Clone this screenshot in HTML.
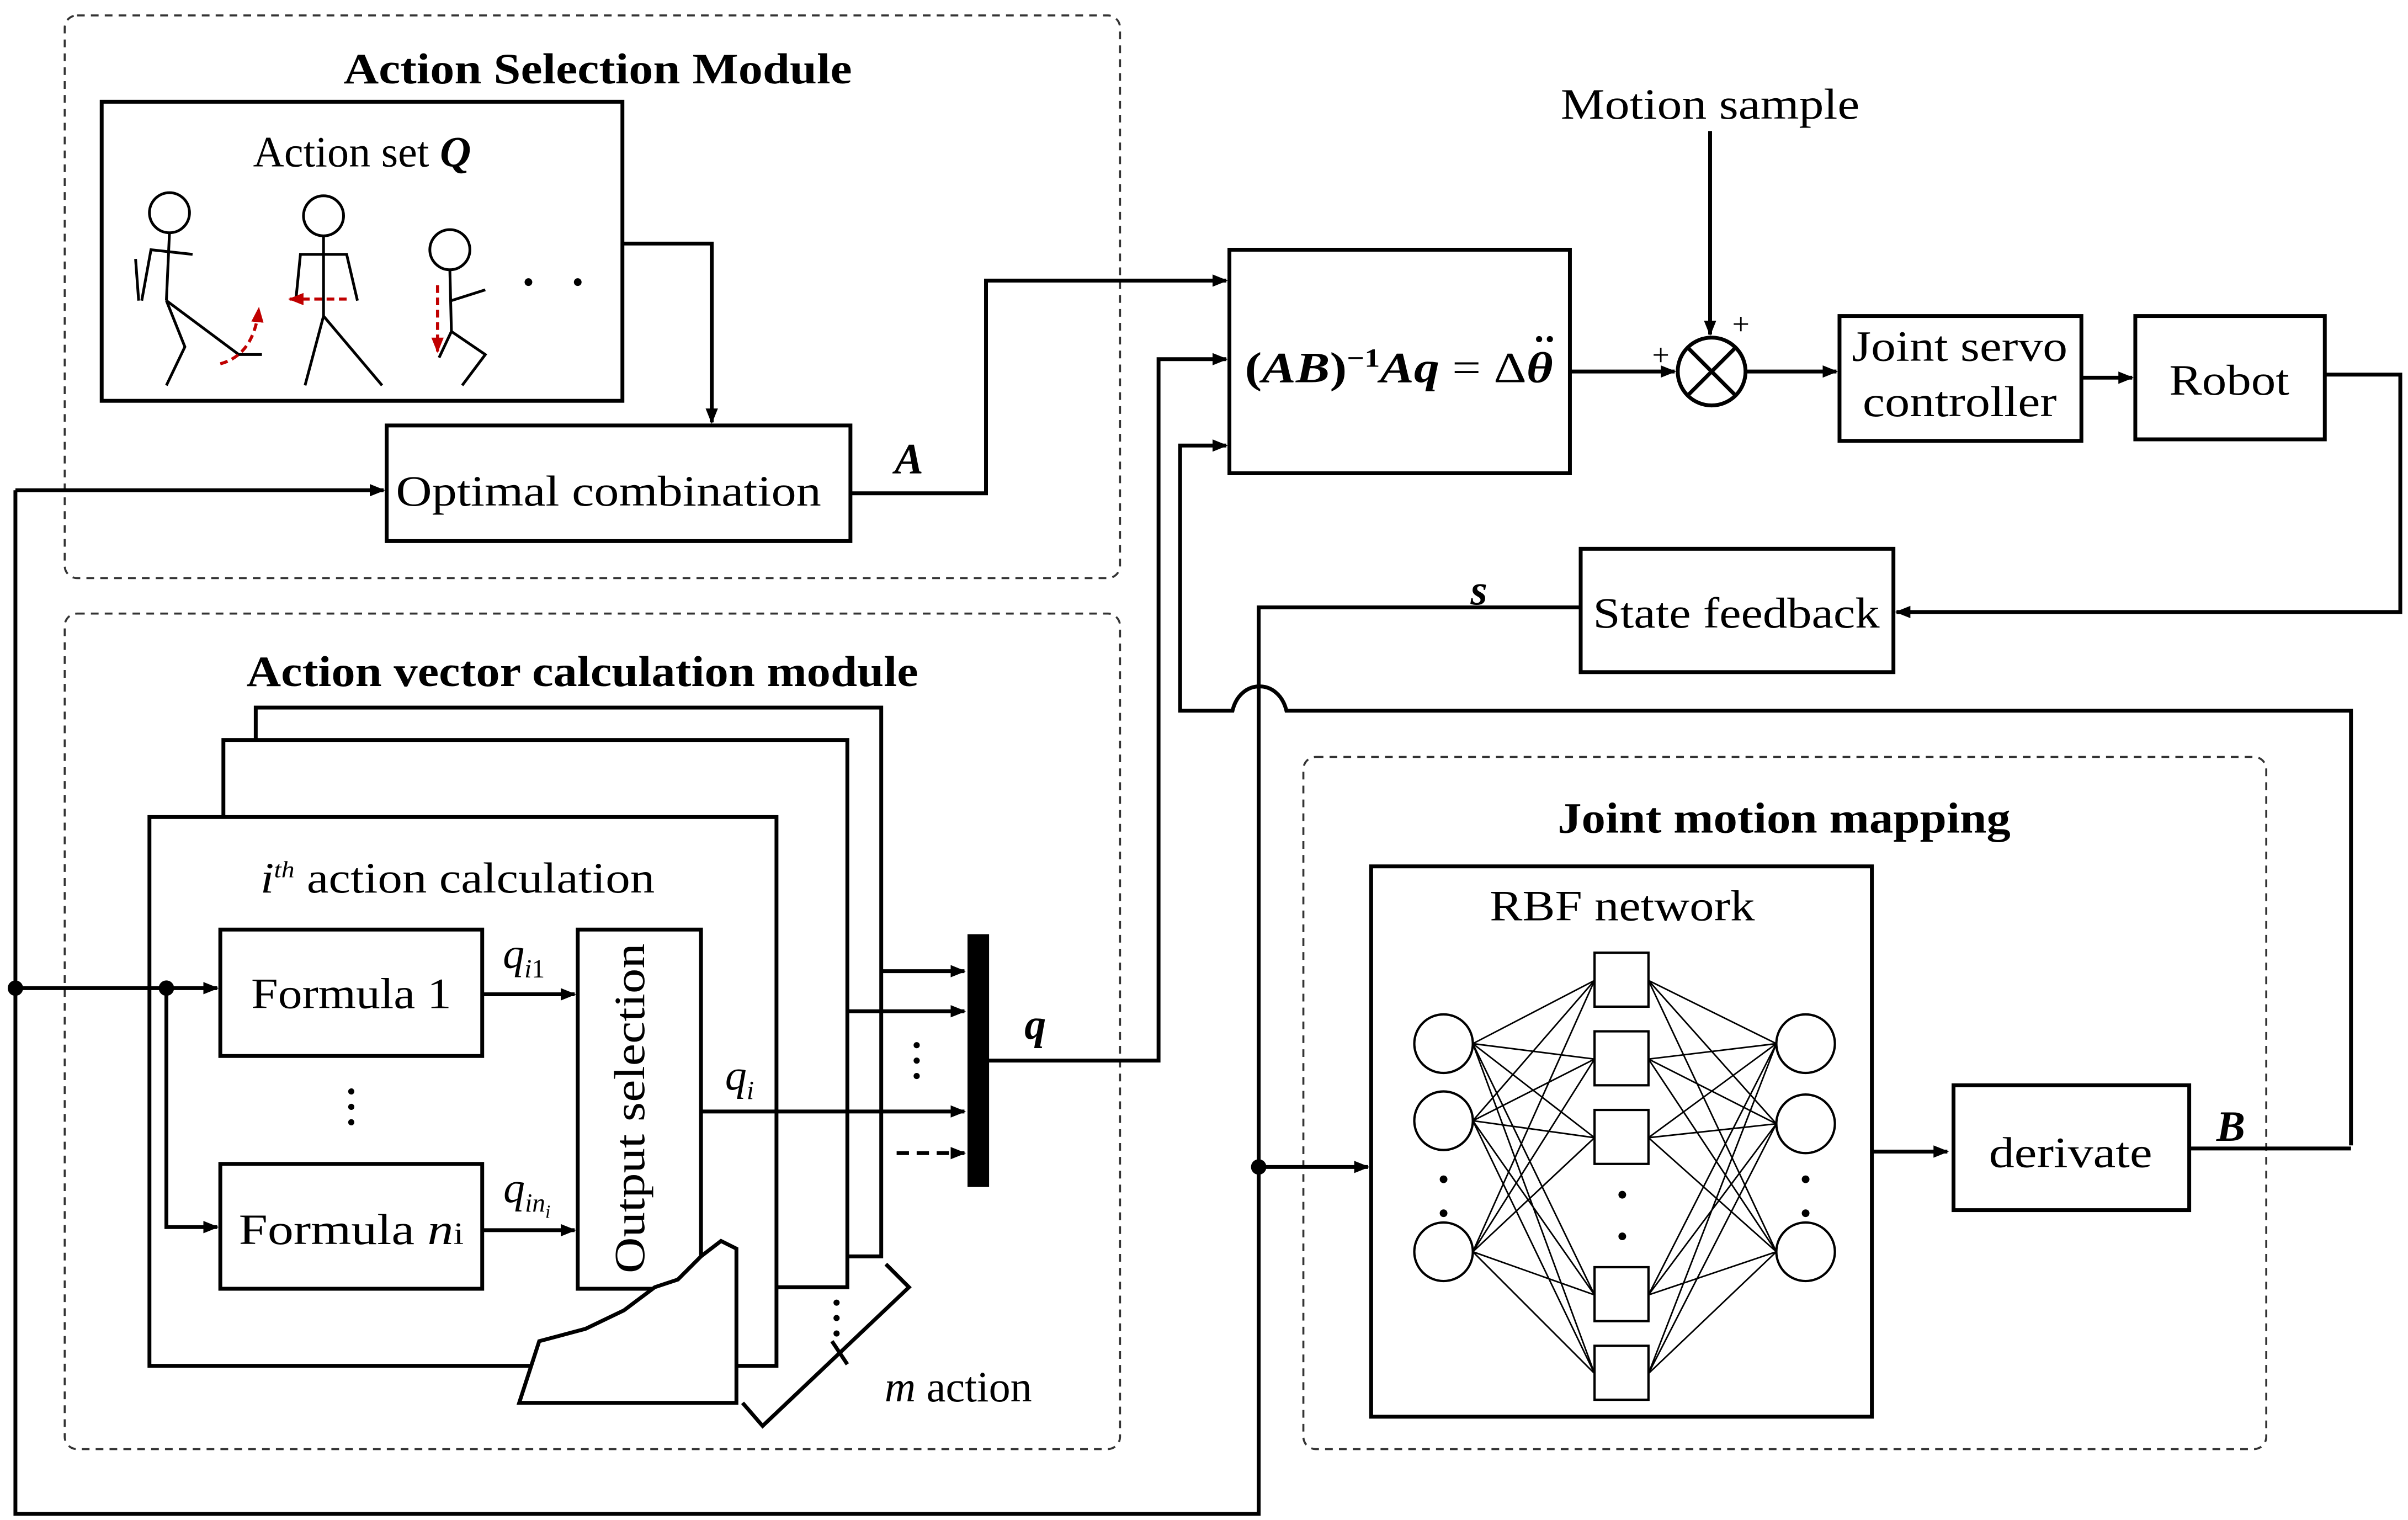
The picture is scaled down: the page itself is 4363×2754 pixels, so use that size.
<!DOCTYPE html>
<html><head><meta charset="utf-8"><style>
html,body{margin:0;padding:0;background:#fff;}
svg{display:block;}
text{font-family:"Liberation Serif",serif;fill:#000;}
</style></head><body>
<svg width="4363" height="2754" viewBox="0 0 1563 986" preserveAspectRatio="none" xmlns="http://www.w3.org/2000/svg">
<defs>
<marker id="ar" markerWidth="10" markerHeight="10" refX="9" refY="5" orient="auto" markerUnits="userSpaceOnUse"><path d="M0,1 L10,5 L0,9 z" fill="#000"/></marker>
<marker id="rr" markerWidth="10" markerHeight="10" refX="9" refY="5" orient="auto" markerUnits="userSpaceOnUse"><path d="M0,1 L10,5 L0,9 z" fill="#c00000"/></marker>
</defs>
<g fill="none" stroke="#000" stroke-width="2.5">
<rect x="42" y="10" width="685" height="365" rx="8" stroke-dasharray="5,4" stroke-width="1.3" stroke="#333"/>
<rect x="42" y="398" width="685" height="542" rx="8" stroke-dasharray="5,4" stroke-width="1.3" stroke="#333"/>
<rect x="846" y="491" width="625" height="449" rx="8" stroke-dasharray="5,4" stroke-width="1.3" stroke="#333"/>
<rect x="66" y="66" width="338" height="194"/>
<rect x="251" y="276" width="301" height="75"/>
<rect x="798" y="162" width="221" height="145"/>
<rect x="1194" y="205" width="157" height="81"/>
<rect x="1386" y="205" width="123" height="80"/>
<rect x="1026" y="356" width="203" height="80"/>
<rect x="166" y="459" width="406" height="356" fill="#fff"/>
<rect x="145" y="480" width="405" height="355" fill="#fff"/>
<rect x="97" y="530" width="407" height="356" fill="#fff"/>
<rect x="143" y="603" width="170" height="82"/>
<rect x="143" y="755" width="170" height="81"/>
<rect x="375" y="603" width="80" height="233"/>
<rect x="890" y="562" width="325" height="357"/>
<rect x="1268" y="704" width="153" height="81"/>
<path d="M337,910 L350,870 L380,862 L405,850 L425,835 L440,830 L455,815 L468,805 L478,810 L478,910 Z" fill="#fff"/>
<polyline points="404,158 462,158 462,274" marker-end="url(#ar)"/>
<polyline points="10,318 249,318" marker-end="url(#ar)"/>
<polyline points="10,318 10,982 817,982 817,394 1026,394"/>
<polyline points="552,320 640,320 640,182 796,182" marker-end="url(#ar)"/>
<polyline points="640,688 752,688 752,233 796,233" marker-end="url(#ar)"/>
<polyline points="1019,241 1087,241" marker-end="url(#ar)"/>
<polyline points="1110,85 1110,217" marker-end="url(#ar)"/>
<circle cx="1111" cy="241" r="22"/>
<line x1="1095" y1="225" x2="1127" y2="257"/><line x1="1127" y1="225" x2="1095" y2="257"/>
<polyline points="1133,241 1192,241" marker-end="url(#ar)"/>
<polyline points="1351,245 1384,245" marker-end="url(#ar)"/>
<polyline points="1509,243 1558,243 1558,397 1231,397" marker-end="url(#ar)"/>
<path d="M1526,743 L1526,461 L835,461 C830,440 805,440 800,461 L766,461 L766,289 L796,289" marker-end="url(#ar)"/>
<polyline points="1421,745 1526,745"/>
<polyline points="10,641 141,641" marker-end="url(#ar)"/>
<polyline points="108,641 108,796 141,796" marker-end="url(#ar)"/>
<polyline points="313,645 373,645" marker-end="url(#ar)"/>
<polyline points="313,798 373,798" marker-end="url(#ar)"/>
<polyline points="455,721 626,721" marker-end="url(#ar)"/>
<polyline points="572,630 626,630" marker-end="url(#ar)"/>
<polyline points="550,656 626,656" marker-end="url(#ar)"/>
<polyline points="582,748 626,748" stroke-dasharray="8,5" marker-end="url(#ar)"/>
<polyline points="817,757 888,757" marker-end="url(#ar)"/>
<polyline points="1215,747 1264,747" marker-end="url(#ar)"/>
<polyline points="482,910 495,925 590,835 575,820"/>
<line x1="540" y1="870" x2="550" y2="885"/>
<g stroke-width="1.8">
<circle cx="110" cy="138" r="13"/><line x1="110" y1="151" x2="108" y2="195"/><polyline points="92,195 98,162 125,165"/><polyline points="108,195 155,230 170,230"/><polyline points="108,195 120,225 108,250"/><line x1="88" y1="168" x2="90" y2="195"/>
<circle cx="210" cy="140" r="13"/><line x1="210" y1="153" x2="210" y2="205"/><polyline points="192,195 195,165 225,165 232,195"/><polyline points="210,205 198,250"/><polyline points="210,205 248,250"/>
<circle cx="292" cy="162" r="13"/><line x1="292" y1="175" x2="293" y2="215"/><polyline points="293,195 315,188"/><polyline points="293,215 315,230 300,250"/><polyline points="293,215 285,232"/>
</g>
<g stroke="#c00000" stroke-width="2">
<path d="M143,236 Q165,230 168,200" stroke-dasharray="5,3" marker-end="url(#rr)"/>
<line x1="225" y1="194" x2="188" y2="194" stroke-dasharray="5,3" marker-end="url(#rr)"/>
<line x1="284" y1="185" x2="284" y2="228" stroke-dasharray="5,3" marker-end="url(#rr)"/>
</g>
<g stroke-width="1.5">
<circle cx="937" cy="677" r="19"/><circle cx="937" cy="727" r="19"/><circle cx="937" cy="812" r="19"/>
<circle cx="1172" cy="677" r="19"/><circle cx="1172" cy="729" r="19"/><circle cx="1172" cy="812" r="19"/>
<rect x="1035" y="618" width="35" height="35"/><rect x="1035" y="669" width="35" height="35"/><rect x="1035" y="720" width="35" height="35"/><rect x="1035" y="822" width="35" height="35"/><rect x="1035" y="873" width="35" height="35"/>
</g>
<g stroke-width="1">
<path d="M956,677L1035,636M956,677L1035,687M956,677L1035,738M956,677L1035,840M956,677L1035,891M956,727L1035,636M956,727L1035,687M956,727L1035,738M956,727L1035,840M956,727L1035,891M956,812L1035,636M956,812L1035,687M956,812L1035,738M956,812L1035,840M956,812L1035,891"/>
<path d="M1070,636L1153,677M1070,636L1153,729M1070,636L1153,812M1070,687L1153,677M1070,687L1153,729M1070,687L1153,812M1070,738L1153,677M1070,738L1153,729M1070,738L1153,812M1070,840L1153,677M1070,840L1153,729M1070,840L1153,812M1070,891L1153,677M1070,891L1153,729M1070,891L1153,812"/>
</g>
</g>
<rect x="628" y="606" width="14" height="164" fill="#000"/>
<circle cx="10" cy="641" r="5" fill="#000"/><circle cx="108" cy="641" r="5" fill="#000"/><circle cx="817" cy="757" r="5" fill="#000"/>
<g fill="#000"><circle cx="343" cy="183" r="2.5"/><circle cx="375" cy="183" r="2.5"/>
<circle cx="937" cy="765" r="2.5"/><circle cx="937" cy="787" r="2.5"/><circle cx="1053" cy="775" r="2.5"/><circle cx="1053" cy="802" r="2.5"/><circle cx="1172" cy="765" r="2.5"/><circle cx="1172" cy="787" r="2.5"/>
<circle cx="228" cy="708" r="2"/><circle cx="228" cy="718" r="2"/><circle cx="228" cy="728" r="2"/>
<circle cx="595" cy="678" r="2"/><circle cx="595" cy="688" r="2"/><circle cx="595" cy="698" r="2"/>
<circle cx="543" cy="845" r="2"/><circle cx="543" cy="855" r="2"/><circle cx="543" cy="865" r="2"/>
<circle cx="999" cy="220" r="2"/><circle cx="1006" cy="220" r="2"/></g>
<g font-size="28" text-anchor="middle">
<text x="388" y="54" font-weight="bold" textLength="330" lengthAdjust="spacingAndGlyphs">Action Selection Module</text>
<text x="378" y="445" font-weight="bold" textLength="436" lengthAdjust="spacingAndGlyphs">Action vector calculation module</text>
<text x="1158" y="540" font-weight="bold" textLength="294" lengthAdjust="spacingAndGlyphs">Joint motion mapping</text>
<text x="235" y="108">Action set <tspan font-weight="bold" font-style="italic">Q</tspan></text>
<text x="395" y="328" textLength="276" lengthAdjust="spacingAndGlyphs">Optimal combination</text>
<text x="590" y="307" font-weight="bold" font-style="italic">A</text>
<text x="908" y="248" font-weight="bold" textLength="200" lengthAdjust="spacingAndGlyphs">(<tspan font-style="italic">AB</tspan>)<tspan font-size="17" dy="-10">−1</tspan><tspan dy="10" font-style="italic">Aq</tspan><tspan font-weight="normal"> = Δ</tspan><tspan font-style="italic">θ</tspan></text>
<text x="1110" y="77" textLength="194" lengthAdjust="spacingAndGlyphs">Motion sample</text>
<text x="1078" y="237" font-size="20">+</text>
<text x="1130" y="217" font-size="20">+</text>
<text x="1272" y="234" textLength="140" lengthAdjust="spacingAndGlyphs">Joint servo</text>
<text x="1272" y="270" textLength="126" lengthAdjust="spacingAndGlyphs">controller</text>
<text x="1447" y="256" textLength="78" lengthAdjust="spacingAndGlyphs">Robot</text>
<text x="1127" y="407" textLength="186" lengthAdjust="spacingAndGlyphs">State feedback</text>
<text x="960" y="392" font-weight="bold" font-style="italic">s</text>
<text x="297" y="579" textLength="256" lengthAdjust="spacingAndGlyphs"><tspan font-style="italic">i</tspan><tspan font-size="15" dy="-10" font-style="italic">th</tspan><tspan dy="10"> action calculation</tspan></text>
<text x="228" y="654" textLength="130" lengthAdjust="spacingAndGlyphs">Formula 1</text>
<text x="228" y="807" textLength="146" lengthAdjust="spacingAndGlyphs">Formula <tspan font-style="italic">n</tspan><tspan font-size="20">i</tspan></text>
<text x="0" y="0" transform="translate(418,719) rotate(-90)" textLength="214" lengthAdjust="spacingAndGlyphs">Output selection</text>
<text x="340" y="628" font-style="italic">q<tspan font-size="17" dy="6">i</tspan><tspan font-size="17" font-style="normal">1</tspan></text>
<text x="342" y="780" font-style="italic">q<tspan font-size="17" dy="6">in</tspan><tspan font-size="12" dy="4">i</tspan></text>
<text x="480" y="707" font-style="italic">q<tspan font-size="17" dy="6">i</tspan></text>
<text x="672" y="674" font-weight="bold" font-style="italic">q</text>
<text x="622" y="909"><tspan font-style="italic">m</tspan> action</text>
<text x="1053" y="597" textLength="172" lengthAdjust="spacingAndGlyphs">RBF network</text>
<text x="1344" y="757" textLength="106" lengthAdjust="spacingAndGlyphs">derivate</text>
<text x="1448" y="740" font-weight="bold" font-style="italic">B</text>
</g>
</svg>
</body></html>
